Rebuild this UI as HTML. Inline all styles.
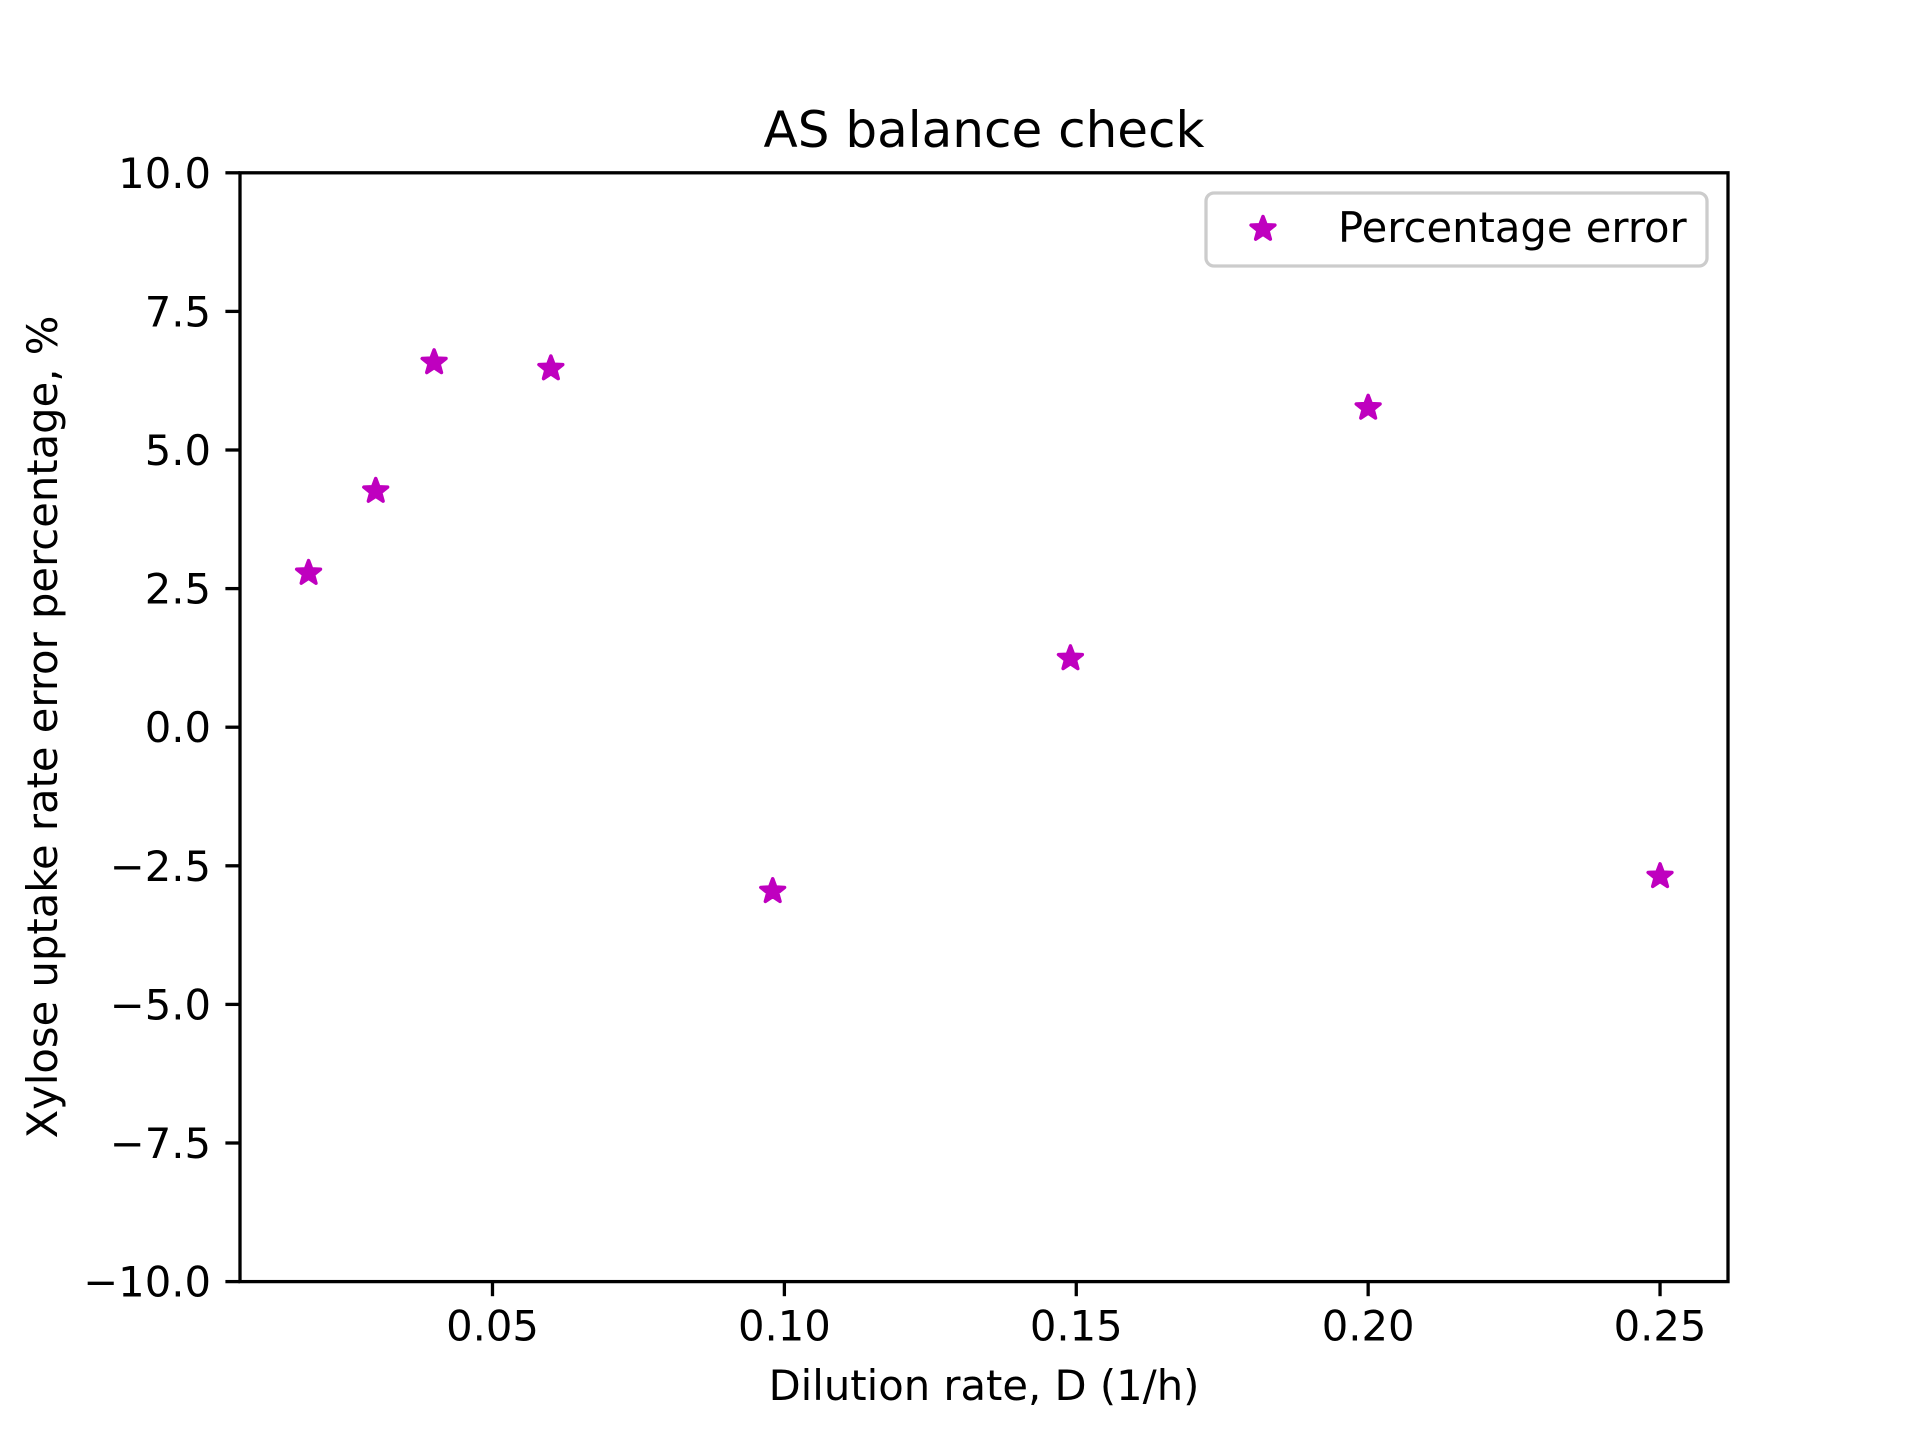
<!DOCTYPE html>
<html><head><meta charset="utf-8"><style>
html,body{margin:0;padding:0;background:#fff;}
svg{display:block;font-family:"DejaVu Sans","Liberation Sans",sans-serif;}
</style></head><body>
<svg id="chart" width="1920" height="1440" viewBox="0 0 1920 1440" xmlns="http://www.w3.org/2000/svg">
<rect width="1920" height="1440" fill="#fff"/>
<text x="984" y="147" font-size="50" text-anchor="middle">AS balance check</text>
<g id="ticks"></g>
<g id="points"></g>
<rect x="240" y="172.8" width="1488" height="1108.8" fill="none" stroke="#000" stroke-width="3.3"/>
<text x="984" y="1400" font-size="41.7" text-anchor="middle">Dilution rate, D (1/h)</text>
<text transform="translate(57,727) rotate(-90)" font-size="41.7" text-anchor="middle">Xylose uptake rate error percentage, %</text>
<g>
<rect x="1206" y="193" width="501" height="73" rx="8" fill="#fff" fill-opacity="0.8" stroke="#ccc" stroke-width="3.3"/>
<g id="legmark"></g>
<text x="1338" y="242" font-size="41.7">Percentage error</text>
</g>
</svg>
<script>
const xValues = [0.0185, 0.030, 0.040, 0.060, 0.098, 0.149, 0.200, 0.250];
const yValues = [2.78, 4.26, 6.58, 6.47, -2.96, 1.24, 5.76, -2.69];
const xTickValues = [0.05, 0.10, 0.15, 0.20, 0.25];
const xTickLabels = ["0.05", "0.10", "0.15", "0.20", "0.25"];
const yTickValues = [10, 7.5, 5, 2.5, 0, -2.5, -5, -7.5, -10];
const yTickLabels = ["10.0", "7.5", "5.0", "2.5", "0.0", "\u22122.5", "\u22125.0", "\u22127.5", "\u221210.0"];

const L = 240, R = 1728, T = 172.8, B = 1281.6;
const XMIN = 0.00675, XMAX = 0.26164, YMIN = -10, YMAX = 10;
function xs(v){ return L + (v - XMIN) / (XMAX - XMIN) * (R - L); }
function ys(v){ return B - (v - YMIN) / (YMAX - YMIN) * (B - T); }
const NS = "http://www.w3.org/2000/svg";
function mk(tag, attrs){ const e = document.createElementNS(NS, tag); for (const k in attrs) e.setAttribute(k, attrs[k]); return e; }
function star(cx, cy, r){
  let p = [];
  for (let i = 0; i < 10; i++){
    const a = -Math.PI/2 + i*Math.PI/5;
    const rr = i % 2 ? r*0.42 : r;
    p.push((cx + rr*Math.cos(a)).toFixed(2) + "," + (cy + rr*Math.sin(a)).toFixed(2));
  }
  return p.join(" ");
}
const tg = document.getElementById("ticks");
xTickValues.forEach((v, i) => {
  const x = xs(v);
  const l = mk("line", {x1:x, x2:x, y1:B, y2:B+14.6, stroke:"#000", "stroke-width":3.3});
  
  
  tg.appendChild(l);
  const t = mk("text", {x:x, y:B+59, "font-size":41.7, "text-anchor":"middle"});
  
  
  t.textContent = xTickLabels[i];
  tg.appendChild(t);
});
yTickValues.forEach((v, i) => {
  const y = ys(v);
  const l = mk("line", {x1:L-14.6, x2:L, y1:y, y2:y, stroke:"#000", "stroke-width":3.3});
  
  
  tg.appendChild(l);
  const t = mk("text", {x:L-29, y:y+15, "font-size":41.7, "text-anchor":"end"});
  
  
  t.textContent = yTickLabels[i];
  tg.appendChild(t);
});
const pg = document.getElementById("points");
xValues.forEach((v, i) => {
  const s = mk("polygon", {points: star(xs(v), ys(yValues[i]), 12.5), fill:"#bf00bf", stroke:"#bf00bf", "stroke-width":3.5, "stroke-linejoin":"round"});
  
  
  pg.appendChild(s);
});
const lm = mk("polygon", {points: star(1263, 229, 12.5), fill:"#bf00bf", stroke:"#bf00bf", "stroke-width":3.5, "stroke-linejoin":"round"});


document.getElementById("legmark").appendChild(lm);
</script>
</body></html>
